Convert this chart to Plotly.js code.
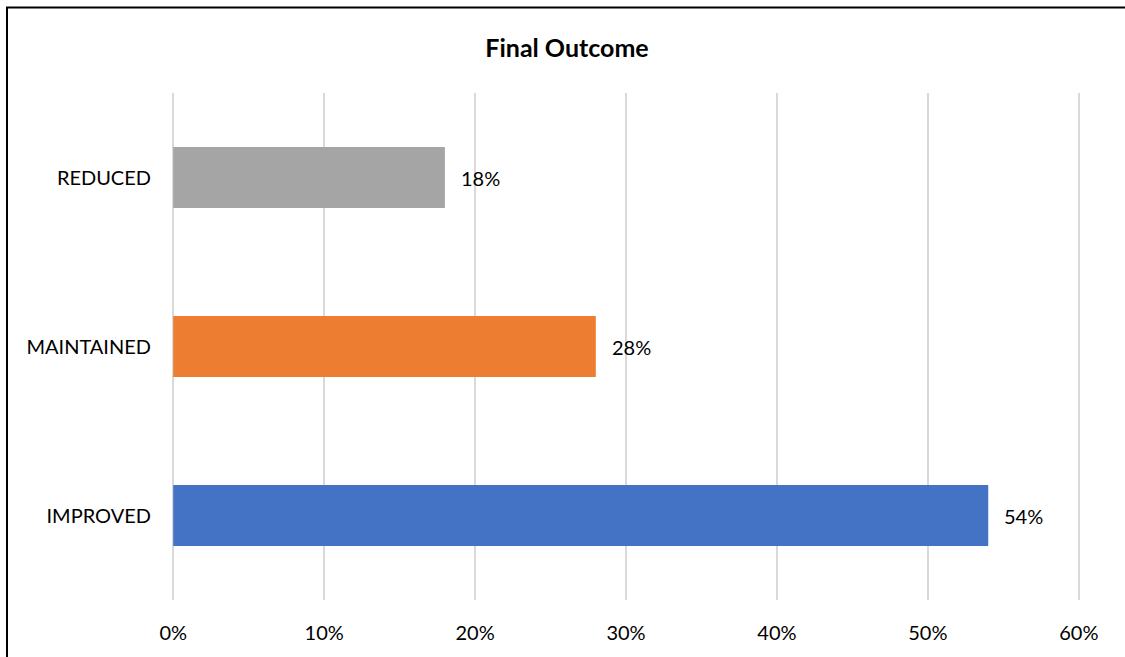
<!DOCTYPE html>
<html>
<head>
<meta charset="utf-8">
<script src="https://cdn.plot.ly/plotly-3.0.1.min.js"></script>
<style>html,body{margin:0;padding:0;background:#fff;overflow:hidden}#chart{width:1125px;height:657px}</style>
</head>
<body>
<div id="chart"></div>
<script>
const categories = ['IMPROVED', 'MAINTAINED', 'REDUCED'];
const values = [0.54, 0.28, 0.18];
const labels = ['54%', '28%', '18%'];
const barColors = ['#4472C4', '#ED7D31', '#A5A5A5'];
const xTickVals = [0, 0.1, 0.2, 0.3, 0.4, 0.5, 0.6];
const xTickText = ['0%', '10%', '20%', '30%', '40%', '50%', '60%'];

const FONT = 'Lato, "Open Sans", "Liberation Sans", sans-serif';

const trace = {
  type: 'bar',
  orientation: 'h',
  x: values,
  y: categories,
  marker: {color: barColors},
  hoverinfo: 'skip'
};

const annotations = values.map((v, i) => ({
  x: v, y: categories[i], xref: 'x', yref: 'y',
  text: labels[i], showarrow: false, xanchor: 'left', yanchor: 'middle',
  xshift: 14, font: {family: FONT, size: 20, color: '#000'}
}));

const layout = {
  width: 1125, height: 657,
  margin: {l: 172, r: 45, t: 93, b: 57},
  paper_bgcolor: '#fff', plot_bgcolor: '#fff',
  font: {family: FONT, size: 20, color: '#000'},
  title: {text: '<b>Final Outcome</b>', x: 0.504, xanchor: 'center', y: 0.927, yanchor: 'middle',
          font: {family: FONT, size: 25, color: '#000'}},
  bargap: 0.64,
  showlegend: false,
  xaxis: {
    range: [-0.0008, 0.6008], tickvals: xTickVals, ticktext: xTickText,
    showgrid: true, gridcolor: '#D9D9D9', gridwidth: 2,
    zeroline: true, zerolinecolor: '#D9D9D9', zerolinewidth: 2,
    showline: false, ticks: 'outside', ticklen: 15, tickcolor: 'rgba(0,0,0,0)',
    tickfont: {family: FONT, size: 20, color: '#000'}, fixedrange: true
  },
  yaxis: {
    categoryorder: 'array', categoryarray: categories,
    showgrid: false, zeroline: false, showline: false,
    ticks: 'outside', ticklen: 16, tickcolor: 'rgba(0,0,0,0)',
    tickfont: {family: FONT, size: 20, color: '#000'}, fixedrange: true
  },
  annotations: annotations,
  shapes: [{
    type: 'rect', xref: 'paper', yref: 'paper',
    x0: (7 - 172) / 908, x1: 2, y0: -2, y1: (600 - 7.5) / 507,
    line: {color: '#000', width: 2}, fillcolor: 'rgba(0,0,0,0)'
  }]
};

Plotly.newPlot('chart', [trace], layout, {displayModeBar: false, staticPlot: true});
</script>
</body>
</html>
